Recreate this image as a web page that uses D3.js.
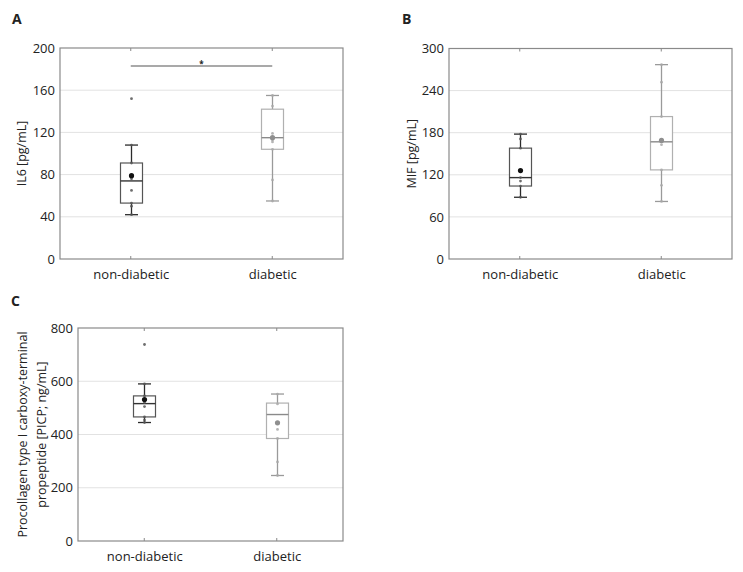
<!DOCTYPE html>
<html>
<head>
<meta charset="utf-8">
<script src="https://cdn.jsdelivr.net/npm/d3@7"></script>
<style>
  html, body { margin: 0; padding: 0; background: #fff; }
  svg text { font-family: "Open Sans", "Noto Sans", sans-serif; fill: #222; }
</style>
</head>
<body>
<svg id="chart" width="743" height="572"></svg>
<script>
// ---- data ----
const categories = ["non-diabetic", "diabetic"];

// box stats per category: [min, q1, median, q3, max]
const il6Box = [[42, 53, 74, 91, 108], [55, 104, 115, 142, 155]];
const il6Mean = [79, 115];
const il6Points = [[152, 108, 91, 76, 65, 53, 50, 42], [155, 145, 119, 113, 111, 104, 75, 55]];
const il6Ticks = [0, 40, 80, 120, 160, 200];

const mifBox = [[88, 104, 116, 158, 178], [82, 127, 167, 203, 277]];
const mifMean = [126, 169];
const mifPoints = [[178, 171, 158, 116, 111, 104, 88], [277, 252, 203, 170, 167, 163, 127, 105, 82]];
const mifTicks = [0, 60, 120, 180, 240, 300];

const picpBox = [[445, 466, 516, 545, 590], [246, 385, 475, 518, 552]];
const picpMean = [531, 444];
const picpPoints = [[738, 590, 545, 520, 505, 466, 454, 445], [552, 515, 419, 385, 297, 246]];
const picpTicks = [0, 200, 400, 600, 800];

const sigBarIL6 = 183; // significance bracket level (pg/mL)

// ---- drawing ----
const svg = d3.select("#chart");
const colorsStrong = ["#2b2b2b", "#9a9a9a"];
const boxStroke = ["#555", "#b0b0b0"];
const medianStroke = ["#333", "#8a8a8a"];
const pointFill = ["#555", "#a8a8a8"];

function panel(opt) {
  const {x0, x1, y0, y1, ticks, box, mean, points, ylabel, letter, letterPos, labelX} = opt;
  const g = svg.append("g");
  const x = d3.scalePoint().domain(categories).range([x0, x1]).padding(0.5);
  const y = d3.scaleLinear().domain([ticks[0], ticks[ticks.length - 1]]).range([y1, y0]);

  // gridlines
  g.append("g").selectAll("line").data(ticks.slice(1, -1)).join("line")
    .attr("x1", x0).attr("x2", x1)
    .attr("y1", d => y(d)).attr("y2", d => y(d))
    .attr("stroke", "#e2e2e2").attr("stroke-width", 1);

  // y axis (labels only)
  const ya = g.append("g").attr("transform", `translate(${x0},0)`)
    .call(d3.axisLeft(y).tickValues(ticks).tickSize(0).tickPadding(5));
  ya.select(".domain").remove();
  ya.selectAll("text").style("font-size", "13px").attr("fill", "#222");

  // x axis
  const xa = g.append("g").attr("transform", `translate(0,${y1})`)
    .call(d3.axisBottom(x).tickSize(0).tickPadding(11));
  xa.select(".domain").remove();
  xa.selectAll("text").style("font-size", "13px").attr("fill", "#222");

  // small inner ticks at category positions
  g.append("g").selectAll("line").data(categories).join("line")
    .attr("x1", d => x(d)).attr("x2", d => x(d))
    .attr("y1", y1).attr("y2", y1 - 3).attr("stroke", "#888");
  g.append("g").selectAll("line").data(categories).join("line")
    .attr("x1", d => x(d)).attr("x2", d => x(d))
    .attr("y1", y0).attr("y2", y0 + 3).attr("stroke", "#888");

  // frame
  g.append("rect").attr("x", x0).attr("y", y0)
    .attr("width", x1 - x0).attr("height", y1 - y0)
    .attr("fill", "none").attr("stroke", "#8a8a8a").attr("stroke-width", 1.2);

  const bw = 22, cw = 11;
  categories.forEach((c, i) => {
    const cx = Math.round(x(c)) + 0.5;
    const [mn, q1, md, q3, mx] = box[i];
    const gg = g.append("g");
    // whiskers
    gg.append("line").attr("x1", cx).attr("x2", cx).attr("y1", y(mx)).attr("y2", y(q3))
      .attr("stroke", colorsStrong[i]).attr("stroke-width", 1.3);
    gg.append("line").attr("x1", cx).attr("x2", cx).attr("y1", y(q1)).attr("y2", y(mn))
      .attr("stroke", colorsStrong[i]).attr("stroke-width", 1.3);
    gg.append("line").attr("x1", cx - cw / 2 - 1).attr("x2", cx + cw / 2 + 1).attr("y1", y(mx)).attr("y2", y(mx))
      .attr("stroke", colorsStrong[i]).attr("stroke-width", 1.3);
    gg.append("line").attr("x1", cx - cw / 2 - 1).attr("x2", cx + cw / 2 + 1).attr("y1", y(mn)).attr("y2", y(mn))
      .attr("stroke", colorsStrong[i]).attr("stroke-width", 1.3);
    // box
    gg.append("rect").attr("x", cx - bw / 2).attr("y", y(q3))
      .attr("width", bw).attr("height", y(q1) - y(q3))
      .attr("fill", "#fff").attr("stroke", boxStroke[i]).attr("stroke-width", 1.2);
    gg.append("line").attr("x1", cx - bw / 2).attr("x2", cx + bw / 2).attr("y1", y(md)).attr("y2", y(md))
      .attr("stroke", medianStroke[i]).attr("stroke-width", 1.4);
    // data points
    gg.selectAll("circle.pt").data(points[i]).join("circle").attr("class", "pt")
      .attr("cx", cx).attr("cy", d => y(d)).attr("r", 1.4)
      .attr("fill", pointFill[i]).attr("opacity", 0.85);
    // mean
    gg.append("circle").attr("cx", cx).attr("cy", y(mean[i])).attr("r", 2.6)
      .attr("fill", i === 0 ? "#111" : "#8f8f8f");
  });

  // y label
  const lab = g.append("text")
    .attr("transform", `translate(${labelX},${(y0 + y1) / 2}) rotate(-90)`)
    .attr("text-anchor", "middle").style("font-size", "12.5px");
  ylabel.forEach((t, k) => {
    lab.append("tspan").attr("x", 0).attr("dy", k === 0 ? 0 : "1.55em").text(t);
  });

  // panel letter
  svg.append("text").attr("x", letterPos[0]).attr("y", letterPos[1])
    .style("font-size", "14px").style("font-weight", "bold").text(letter);

  return {g, x, y};
}

const A = panel({x0: 60, x1: 343, y0: 48, y1: 259, ticks: il6Ticks, box: il6Box, mean: il6Mean,
  points: il6Points, ylabel: ["IL6 [pg/mL]"], letter: "A", letterPos: [12, 24], labelX: 26});

// significance bracket
A.g.append("line").attr("x1", A.x(categories[0])).attr("x2", A.x(categories[1]))
  .attr("y1", A.y(sigBarIL6)).attr("y2", A.y(sigBarIL6)).attr("stroke", "#555").attr("stroke-width", 1.1);
A.g.append("text").attr("x", (A.x(categories[0]) + A.x(categories[1])) / 2).attr("y", A.y(sigBarIL6) + 1)
  .attr("text-anchor", "middle").style("font-size", "8px").style("font-weight", "bold").attr("fill", "#333").text("*");

panel({x0: 449, x1: 732, y0: 48.5, y1: 259, ticks: mifTicks, box: mifBox, mean: mifMean,
  points: mifPoints, ylabel: ["MIF [pg/mL]"], letter: "B", letterPos: [402, 24], labelX: 416});

panel({x0: 78, x1: 343, y0: 328, y1: 541, ticks: picpTicks, box: picpBox, mean: picpMean,
  points: picpPoints, ylabel: ["Procollagen type I carboxy-terminal", "propeptide [PICP; ng/mL]"],
  letter: "C", letterPos: [11, 306], labelX: 27});
</script>
</body>
</html>
